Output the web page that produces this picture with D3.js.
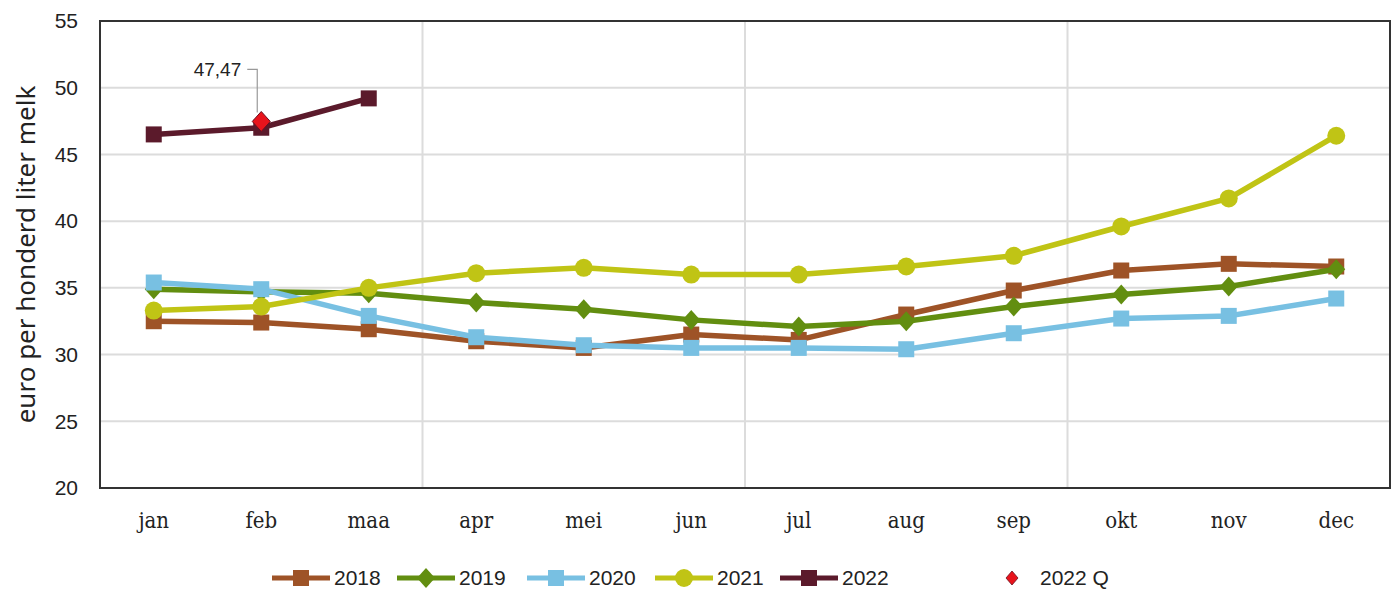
<!DOCTYPE html>
<html>
<head>
<meta charset="utf-8">
<script src="https://cdn.jsdelivr.net/npm/d3@7"></script>
<style>
  body { margin: 0; background: #fff; }
  text { fill: #222; }
</style>
</head>
<body>
<svg id="chart"></svg>
<script>
const months = ["jan", "feb", "maa", "apr", "mei", "jun", "jul", "aug", "sep", "okt", "nov", "dec"];
const v2018 = [32.5, 32.4, 31.9, 31.0, 30.5, 31.5, 31.1, 33.0, 34.8, 36.3, 36.8, 36.6];
const v2019 = [34.9, 34.7, 34.6, 33.9, 33.4, 32.6, 32.1, 32.5, 33.6, 34.5, 35.1, 36.4];
const v2020 = [35.4, 34.9, 32.9, 31.3, 30.7, 30.5, 30.5, 30.4, 31.6, 32.7, 32.9, 34.2];
const v2021 = [33.3, 33.6, 35.0, 36.1, 36.5, 36.0, 36.0, 36.6, 37.4, 39.6, 41.7, 46.4];
const v2022 = [46.5, 47.0, 49.2];
const quarterMonth = "feb";
const quarterValue = 47.47;
const yTicks = [20, 25, 30, 35, 40, 45, 50, 55];

const series = [
  { name: "2018", values: v2018, color: "#9e5327", shape: "square" },
  { name: "2019", values: v2019, color: "#628e10", shape: "diamond" },
  { name: "2020", values: v2020, color: "#78c0e2", shape: "square" },
  { name: "2021", values: v2021, color: "#c0c415", shape: "circle" },
  { name: "2022", values: v2022, color: "#5b1a2b", shape: "square" }
];

const width = 1395, height = 592;
const margin = { top: 21, right: 5, bottom: 104, left: 100 };

const svg = d3.select("#chart").attr("width", width).attr("height", height);

const x = d3.scaleBand().domain(months)
  .range([margin.left, width - margin.right]);
const y = d3.scaleLinear().domain([20, 55])
  .range([height - margin.bottom, margin.top]);
const cx = d => x(d) + x.bandwidth() / 2;

// gridlines
svg.append("g").selectAll("line")
  .data(yTicks.slice(1, -1))
  .enter().append("line")
  .attr("x1", margin.left).attr("x2", width - margin.right)
  .attr("y1", d => y(d)).attr("y2", d => y(d))
  .attr("stroke", "#dcdcdc").attr("stroke-width", 2);

svg.append("g").selectAll("line")
  .data(["apr", "jul", "okt"])
  .enter().append("line")
  .attr("x1", d => x(d)).attr("x2", d => x(d))
  .attr("y1", margin.top).attr("y2", height - margin.bottom)
  .attr("stroke", "#dcdcdc").attr("stroke-width", 2);

// frame
svg.append("rect")
  .attr("x", margin.left).attr("y", margin.top)
  .attr("width", width - margin.left - margin.right)
  .attr("height", height - margin.top - margin.bottom)
  .attr("fill", "none").attr("stroke", "#333").attr("stroke-width", 2);

// y axis
const yAxis = svg.append("g")
  .attr("transform", `translate(${margin.left},0)`)
  .call(d3.axisLeft(y).tickValues(yTicks).tickSize(0).tickPadding(22));
yAxis.select(".domain").remove();
yAxis.selectAll("text")
  .style("font-family", "'Liberation Sans', Arial, sans-serif")
  .style("font-size", "21px").attr("fill", "#222");

// x axis
const xAxis = svg.append("g")
  .attr("transform", `translate(0,${height - margin.bottom})`)
  .call(d3.axisBottom(x).tickSize(0).tickPadding(24));
xAxis.select(".domain").remove();
xAxis.selectAll("text")
  .style("font-family", "'DejaVu Serif Condensed', 'DejaVu Serif', serif")
  .style("font-size", "22px").attr("fill", "#222");

svg.append("text")
  .attr("transform", `translate(35,${(margin.top + height - margin.bottom) / 2}) rotate(-90)`)
  .attr("text-anchor", "middle")
  .style("font-family", "'Noto Sans', sans-serif")
  .style("font-size", "26px")
  .text("euro per honderd liter melk");

function drawMarker(g, shape, color, px, py) {
  if (shape === "square") {
    g.append("rect").attr("x", px - 8).attr("y", py - 8)
      .attr("width", 16).attr("height", 16).attr("fill", color);
  } else if (shape === "diamond") {
    g.append("path")
      .attr("d", `M${px},${py - 10}L${px + 9},${py}L${px},${py + 10}L${px - 9},${py}Z`)
      .attr("fill", color);
  } else {
    g.append("circle").attr("cx", px).attr("cy", py).attr("r", 9).attr("fill", color);
  }
}

const line = d3.line().x(d => cx(d.m)).y(d => y(d.v));

series.forEach(s => {
  const pts = s.values.map((v, i) => ({ m: months[i], v }));
  const g = svg.append("g").attr("class", "series");
  g.append("path").datum(pts)
    .attr("d", line)
    .attr("fill", "none")
    .attr("stroke", s.color)
    .attr("stroke-width", 5.5)
    .attr("stroke-linejoin", "round");
  pts.forEach(p => drawMarker(g, s.shape, s.color, cx(p.m), y(p.v)));
});

// 2022 Q marker and label
const qx = cx(quarterMonth), qy = y(quarterValue);
svg.append("path")
  .attr("d", `M${qx},${qy - 10}L${qx + 9},${qy}L${qx},${qy + 10}L${qx - 9},${qy}Z`)
  .attr("fill", "#e8141c").attr("stroke", "#6b1020").attr("stroke-width", 1);
svg.append("path")
  .attr("d", `M${qx - 14},${qy - 52}H${qx - 4}V${qy - 9}`)
  .attr("fill", "none").attr("stroke", "#999").attr("stroke-width", 1.2);
svg.append("text")
  .attr("x", qx - 20).attr("y", qy - 45)
  .attr("text-anchor", "end")
  .style("font-family", "'Liberation Sans', Arial, sans-serif")
  .style("font-size", "19px")
  .text(d3.format(".2f")(quarterValue).replace(".", ","));

// legend
const legendItems = series.map(s => ({ name: s.name, color: s.color, shape: s.shape, line: true }))
  .concat([{ name: "2022 Q", color: "#e8141c", shape: "diamond", line: false }]);
const legendX = [272, 397, 527, 655, 780, 1000];
const ly = 578;
legendItems.forEach((d, i) => {
  const g = svg.append("g").attr("class", "legend-item");
  const lx = legendX[i];
  if (d.line) {
    g.append("line").attr("x1", lx).attr("x2", lx + 58)
      .attr("y1", ly).attr("y2", ly)
      .attr("stroke", d.color).attr("stroke-width", 5);
    drawMarker(g, d.shape, d.color, lx + 29, ly);
  } else {
    g.append("path")
      .attr("d", `M${lx + 12},${ly - 7}L${lx + 18},${ly}L${lx + 12},${ly + 7}L${lx + 6},${ly}Z`)
      .attr("fill", d.color).attr("stroke", "#6b1020").attr("stroke-width", 0.8);
  }
  g.append("text")
    .attr("x", d.line ? lx + 62 : lx + 40).attr("y", ly + 7)
    .style("font-family", "'Liberation Sans Narrow', 'Liberation Sans', Arial, sans-serif")
    .style("font-size", "21px")
    .text(d.name);
});
</script>
</body>
</html>
